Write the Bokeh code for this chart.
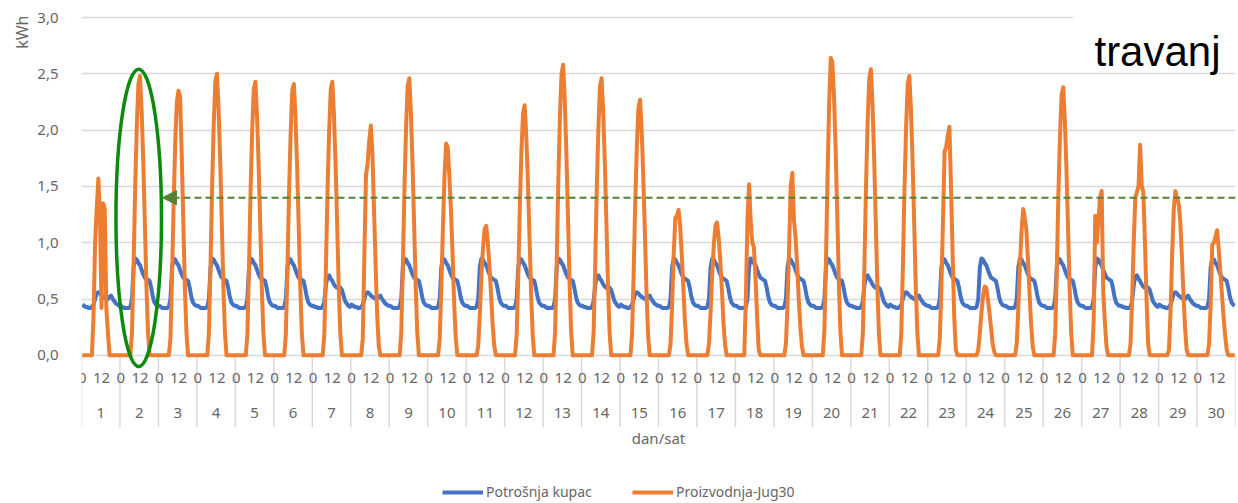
import numpy as np
from bokeh.plotting import figure
from bokeh.models import (Range1d, LinearAxis, FixedTicker, Grid, Label, Legend,
                          LegendItem, Arrow, NormalHead, Title, BoxAnnotation)
from bokeh.embed import file_html
from bokeh.resources import INLINE

# ---- data -----------------------------------------------------------------
DAY_LABELS = [str(d) for d in range(1, 31)]
HOUR_LABELS = ["0", "12"]
Y_TICKS = [0.0, 0.5, 1.0, 1.5, 2.0, 2.5, 3.0]
Y_TICK_LABELS = ["0,0", "0,5", "1,0", "1,5", "2,0", "2,5", "3,0"]

# day type for April: rad = working day, sub = Saturday, ned = Sunday
DAY_TYPE = ["ned", "rad", "rad", "rad", "rad", "rad", "sub",
            "ned", "rad", "rad", "rad", "rad", "rad", "sub",
            "ned", "rad", "rad", "rad", "rad", "rad", "sub",
            "ned", "rad", "rad", "rad", "rad", "rad", "sub",
            "ned", "rad"]

# hourly consumption (kWh), hours 0..23
LOAD_RAD = [0.44, 0.43, 0.42, 0.42, 0.42, 0.42, 0.43, 0.50, 0.78, 0.86, 0.85, 0.82,
            0.80, 0.76, 0.72, 0.69, 0.68, 0.67, 0.66, 0.60, 0.52, 0.47, 0.45, 0.44]
LOAD_SUB = [0.44, 0.43, 0.43, 0.42, 0.42, 0.42, 0.43, 0.48, 0.62, 0.70, 0.71, 0.68,
            0.66, 0.63, 0.61, 0.60, 0.61, 0.60, 0.58, 0.53, 0.48, 0.46, 0.44, 0.43]
LOAD_NED = [0.45, 0.44, 0.43, 0.43, 0.42, 0.42, 0.43, 0.45, 0.50, 0.55, 0.56, 0.55,
            0.53, 0.52, 0.51, 0.50, 0.50, 0.52, 0.53, 0.50, 0.48, 0.46, 0.45, 0.44]
LOAD_PROFILE = {"rad": LOAD_RAD, "sub": LOAD_SUB, "ned": LOAD_NED}

# PV production (kWh) for hours 5..19 of each day; other hours are zero
PV_FIRST_HOUR = 5
PV_DAYLIGHT = [
    [0, 0, .35, 1.0, 1.3, 1.57, 1.25, .42, 1.35, 1.3, .42, .2, 0, 0, 0],
    [0, 0, .2, .8, 1.49, 2.03, 2.41, 2.48, 2.18, 1.74, 1.19, .62, .2, 0, 0],
    [0, 0, .15, .7, 1.35, 1.9, 2.25, 2.35, 2.3, 1.8, 1.2, .6, .2, 0, 0],
    [0, 0, .2, .8, 1.5, 2.05, 2.43, 2.5, 2.2, 1.75, 1.2, .62, .2, 0, 0],
    [0, 0, .19, .78, 1.46, 2.0, 2.36, 2.43, 2.14, 1.7, 1.17, .6, .19, 0, 0],
    [0, 0, .19, .77, 1.45, 1.98, 2.35, 2.41, 2.12, 1.69, 1.16, .6, .19, 0, 0],
    [0, 0, .19, .78, 1.46, 1.99, 2.36, 2.43, 2.14, 1.7, 1.17, .6, .19, 0, 0],
    [0, 0, .15, .9, 1.6, 1.7, 1.9, 2.04, 1.8, 1.3, .8, .35, .08, 0, 0],
    [0, 0, .2, .79, 1.48, 2.02, 2.39, 2.46, 2.16, 1.72, 1.18, .62, .2, 0, 0],
    [0, 0, .15, .6, 1.13, 1.6, 1.88, 1.85, 1.6, 1.3, .9, .47, .15, 0, 0],
    [0, 0, .08, .35, .7, .95, 1.12, 1.15, 1.0, .8, .55, .28, .09, 0, 0],
    [0, 0, .18, .7, 1.33, 1.82, 2.15, 2.22, 1.95, 1.55, 1.07, .56, .18, 0, 0],
    [0, 0, .21, .83, 1.55, 2.12, 2.5, 2.58, 2.27, 1.81, 1.24, .65, .21, 0, 0],
    [0, 0, .2, .79, 1.48, 2.02, 2.39, 2.46, 2.16, 1.72, 1.18, .62, .2, 0, 0],
    [0, 0, .18, .73, 1.36, 1.86, 2.2, 2.27, 2.0, 1.59, 1.09, .57, .18, 0, 0],
    [0, 0, .1, .45, .9, 1.22, 1.24, 1.29, 1.15, .9, .6, .3, .1, 0, 0],
    [0, 0, .1, .38, .72, .98, 1.15, 1.18, 1.05, .85, .6, .3, .1, 0, 0],
    [0, .5, 1.2, 1.52, 1.2, 1.0, .96, .7, .35, .05, 0, 0, 0, 0, 0],
    [0, 0, .1, .45, .95, 1.5, 1.62, 1.2, 1.05, .8, .5, .25, .08, 0, 0],
    [0, 0, .22, .85, 1.6, 2.25, 2.64, 2.6, 2.3, 1.84, 1.27, .66, .21, 0, 0],
    [0, 0, .2, .81, 1.52, 2.08, 2.46, 2.54, 2.24, 1.78, 1.22, .64, .2, 0, 0],
    [0, 0, .2, .8, 1.49, 2.03, 2.41, 2.48, 2.18, 1.74, 1.19, .62, .2, 0, 0],
    [0, 0, .15, .6, 1.2, 1.81, 1.85, 1.95, 2.03, 1.5, .9, .35, .05, 0, 0],
    [0, 0, .05, .2, .38, .53, .61, .6, .5, .38, .24, .1, .03, 0, 0],
    [0, 0, .1, .42, .8, 1.1, 1.3, 1.22, 1.12, .85, .55, .27, .08, 0, 0],
    [0, 0, .19, .76, 1.43, 1.95, 2.31, 2.38, 2.09, 1.67, 1.14, .6, .19, 0, 0],
    [0, 0, .3, 1.24, 1.0, 1.2, 1.4, 1.46, .55, .3, .08, 0, 0, 0, 0],
    [0, .1, .5, 1.0, 1.4, 1.45, 1.5, 1.87, 1.5, 1.45, 1.0, .5, .1, 0, 0],
    [0, .05, .4, .9, 1.3, 1.46, 1.4, 1.35, 1.2, .9, .55, .25, .05, 0, 0],
    [0, 0, .1, .45, .98, 1.0, 1.05, 1.11, .95, .75, .55, .35, .18, .05, 0],
]

# marked level and highlighted day
THRESHOLD = 1.4
ARROW_TIP_HOUR = 50.5
HIGHLIGHT_X, HIGHLIGHT_Y = 35.7, 1.22
HIGHLIGHT_W, HIGHLIGHT_H = 28.4, 2.64

# ---- series ----------------------------------------------------------------
n_days = len(DAY_LABELS)
hours = np.arange(n_days * 24) + 0.5
load = np.concatenate([LOAD_PROFILE[t] for t in DAY_TYPE])
pv = np.zeros(n_days * 24)
for d, vals in enumerate(PV_DAYLIGHT):
    start = d * 24 + PV_FIRST_HOUR
    pv[start:start + len(vals)] = vals

BLUE = "#4472C4"
ORANGE = "#ED7D31"
GRID = "#D9D9D9"
TXT = "#666666"
FONT = "Noto Sans"

PX_PER_UNIT = 112.6
TOP_BORDER = 15
FRAME_H = 503 - TOP_BORDER
y_top = 3.0 + 2 / PX_PER_UNIT
y_bottom = y_top - FRAME_H / PX_PER_UNIT

p = figure(width=1238, height=503, output_backend="svg", toolbar_location=None,
           x_range=Range1d(0, n_days * 24), y_range=Range1d(y_bottom, y_top),
           x_axis_type=None, y_axis_type=None,
           min_border_left=81, min_border_right=3, min_border_top=TOP_BORDER,
           min_border_bottom=0)
p.outline_line_color = None
p.background_fill_color = "white"

# y axis and horizontal grid
y_ticker = FixedTicker(ticks=Y_TICKS)
yaxis = LinearAxis(ticker=y_ticker,
                   major_label_overrides=dict(zip(Y_TICKS, Y_TICK_LABELS)),
                   axis_line_color=None, major_tick_line_color=None,
                   minor_tick_line_color=None, major_label_standoff=17,
                   major_label_text_font=FONT, major_label_text_font_size="15px",
                   major_label_text_color=TXT)
p.add_layout(yaxis, "left")
p.add_layout(Grid(dimension=1, ticker=y_ticker, grid_line_color=GRID,
                  grid_line_width=1.5))
p.add_layout(Title(text="kWh", align="right", offset=0, standoff=4,
                   text_font=FONT, text_font_size="16px",
                   text_font_style="normal", text_color=TXT), "left")

# two-level category axis: hours within a day, then the day number
hour_ticks, hour_text = [], {}
for d in range(n_days):
    for k, lab in enumerate(HOUR_LABELS):
        t = d * 24 + 12 * k + 0.5
        hour_ticks.append(t)
        hour_text[t] = lab
hour_axis = LinearAxis(fixed_location=0, ticker=FixedTicker(ticks=hour_ticks),
                       major_label_overrides=hour_text, axis_line_color=None,
                       major_tick_line_color=None, minor_tick_line_color=None,
                       major_label_standoff=12, major_label_text_font=FONT,
                       major_label_text_font_size="15px",
                       major_label_text_color=TXT)
p.add_layout(hour_axis, "below")

day_ticks = [d * 24 + 12 for d in range(n_days)]
day_axis = LinearAxis(fixed_location=0, ticker=FixedTicker(ticks=day_ticks),
                      major_label_overrides=dict(zip(day_ticks, DAY_LABELS)),
                      axis_line_color=None, major_tick_line_color=None,
                      minor_tick_line_color=None, major_label_standoff=47,
                      major_label_text_font=FONT, major_label_text_font_size="15px",
                      major_label_text_color=TXT,
                      axis_label="dan/sat", axis_label_standoff=6,
                      axis_label_text_font=FONT, axis_label_text_font_size="15px",
                      axis_label_text_font_style="normal",
                      axis_label_text_color=TXT)
p.add_layout(day_axis, "below")

# separators between day groups
bounds = [d * 24 for d in range(n_days + 1)]
p.segment(x0=bounds, y0=[0] * len(bounds), x1=bounds,
          y1=[-72 / PX_PER_UNIT] * len(bounds), line_color=GRID, line_width=1.5)

# series
r_load = p.line(hours, load, line_color=BLUE, line_width=4, line_join="round")
r_pv = p.line(hours, pv, line_color=ORANGE, line_width=4, line_join="round")

# threshold marker and highlighted day
p.add_layout(Arrow(x_start=n_days * 24, y_start=THRESHOLD,
                   x_end=ARROW_TIP_HOUR, y_end=THRESHOLD,
                   line_color="#548235", line_width=2, line_dash="7 4",
                   end=NormalHead(size=14, fill_color="#548235",
                                  line_color="#548235", line_width=1)))
p.ellipse(x=[HIGHLIGHT_X], y=[HIGHLIGHT_Y], width=[HIGHLIGHT_W],
          height=[HIGHLIGHT_H], fill_alpha=0, line_color="#0B8A0B",
          line_width=3.5)

# month name in the corner, on a white patch
p.add_layout(BoxAnnotation(left=992, right=1160, top=500, bottom=437,
                           left_units="screen", right_units="screen",
                           top_units="screen", bottom_units="screen",
                           fill_color="white", fill_alpha=1.0, line_color=None))
p.add_layout(Label(x=1076, y=452, x_units="screen", y_units="screen",
                   text="travanj", text_align="center",
                   text_baseline="alphabetic",
                   text_font="Liberation Sans", text_font_size="42px",
                   text_color="black"))

# legend
for lab, rend, x0 in [("Potrošnja kupac", r_load, 442 - 81),
                      ("Proizvodnja-Jug30", r_pv, 632 - 81)]:
    p.add_layout(Legend(items=[LegendItem(label=lab, renderers=[rend])],
                        location=(x0, 2), orientation="horizontal",
                        glyph_width=41, glyph_height=14, label_height=14,
                        label_standoff=3, padding=0, margin=0,
                        border_line_color=None, background_fill_alpha=0,
                        label_text_font=FONT, label_text_font_size="14px",
                        label_text_color=TXT))

open("out.html", "w").write(file_html(p, INLINE))
